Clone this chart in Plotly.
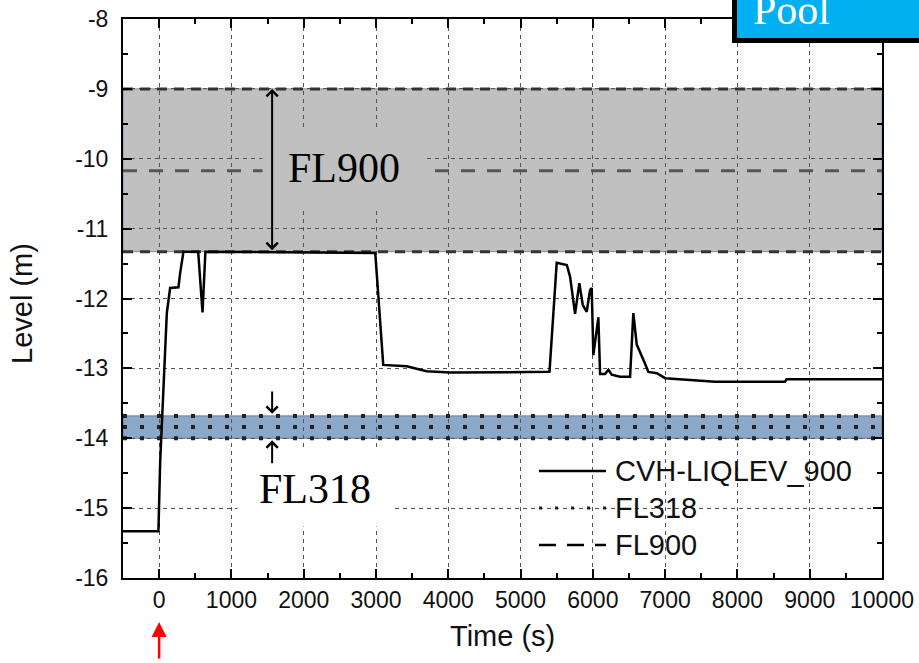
import plotly.graph_objects as go

# ---------------- data ----------------
time_s = [-500, -10, 14, 60, 106, 152, 267, 290, 336, 540, 600, 640, 2990, 3100,
          3425, 3700, 4025, 5400, 5500, 5640, 5685, 5754, 5813, 5860, 5915, 5961,
          5984, 6007, 6076, 6100, 6169, 6215, 6261, 6376, 6515, 6560, 6607, 6700,
          6769, 6885, 7000, 7690, 8658, 8680, 10000]
level_m = [-15.33, -15.33, -14.35, -13.16, -12.21, -11.85, -11.84, -11.64, -11.33,
           -11.33, -12.2, -11.33, -11.35, -12.95, -12.97, -13.04, -13.06, -13.05,
           -11.49, -11.52, -11.69, -12.22, -11.78, -12.09, -12.19, -11.88, -11.85,
           -12.81, -12.27, -13.08, -13.08, -13.02, -13.09, -13.12, -13.12, -12.21,
           -12.66, -12.88, -13.05, -13.07, -13.14, -13.19, -13.19, -13.155, -13.155]

fl318_levels = [-13.68, -13.84, -14.0]   # top, middle, bottom
fl900_levels = [-9.0, -10.17, -11.33]    # top, middle, bottom
x_span = [-500, 10000]

x_tickvals = [0, 1000, 2000, 3000, 4000, 5000, 6000, 7000, 8000, 9000, 10000]
x_ticktext = ["0", "1000", "2000", "3000", "4000", "5000", "6000", "7000", "8000", "9000", "10000"]
y_tickvals = [-16, -15, -14, -13, -12, -11, -10, -9, -8]
y_ticktext = ["-16", "-15", "-14", "-13", "-12", "-11", "-10", "-9", "-8"]

series_names = ["CVH-LIQLEV_900", "FL318", "FL900"]

ARIAL = "Arial, Liberation Sans, sans-serif"
SERIF = "Times New Roman, Liberation Serif, serif"

fig = go.Figure()

# FL900 dashed lines
for i, lv in enumerate(fl900_levels):
    mid = (i == 1)
    fig.add_trace(go.Scatter(
        x=x_span, y=[lv, lv], mode="lines", showlegend=False, hoverinfo="skip",
        line=dict(color="#555555" if mid else "#333333", width=3,
                  dash="14px,12px" if mid else "10px,7px")))

# FL318 dotted lines
for lv in fl318_levels:
    fig.add_trace(go.Scatter(
        x=x_span, y=[lv, lv], mode="lines", showlegend=False, hoverinfo="skip",
        line=dict(color="#222222", width=4, dash="4px,13px")))

# main curve
fig.add_trace(go.Scatter(x=time_s, y=level_m, mode="lines", showlegend=False,
                         line=dict(color="black", width=2.5)))

shapes = []
# bands (below gridlines)
shapes.append(dict(type="rect", xref="x", yref="y", layer="below",
                   x0=x_span[0], x1=x_span[1], y0=fl900_levels[0], y1=fl900_levels[2],
                   fillcolor="#C0C0C0", line=dict(color="#6F8FB5", width=1)))
shapes.append(dict(type="rect", xref="x", yref="y", layer="below",
                   x0=x_span[0], x1=x_span[1], y0=fl318_levels[0], y1=fl318_levels[2],
                   fillcolor="#8CA8C8", line=dict(color="#5A7FAA", width=1)))

# Pool box (top right, partially outside)
shapes.append(dict(type="rect", xref="paper", yref="paper", layer="above",
                   x0=0.8057, x1=1.1, y0=0.9615, y1=1.2,
                   fillcolor="#00B0F0", line=dict(color="black", width=5)))


def px2x(px):
    return (px - 123) / 759.0


def py2y(py):
    return (578 - py) / 559.0


# manual legend samples
leg_rows = [471, 508, 545]
leg_styles = [dict(color="black", width=2.5),
              dict(color="#222222", width=3, dash="3px,13px"),
              dict(color="black", width=2.5, dash="17px,11px")]
for row, st in zip(leg_rows, leg_styles):
    shapes.append(dict(type="line", xref="paper", yref="paper",
                       x0=px2x(539), x1=px2x(606), y0=py2y(row), y1=py2y(row),
                       line=st))

annotations = []
for row, name in zip(leg_rows, series_names):
    annotations.append(dict(xref="paper", yref="paper", x=px2x(613), y=py2y(row),
                            text=name, showarrow=False, xanchor="left", yanchor="middle",
                            font=dict(family=ARIAL, size=29, color="#111")))

# FL900 label (with gray box hiding grid)
annotations.append(dict(xref="x", yref="y", x=2560, y=-10.13, text="FL900",
                        showarrow=False, width=160, height=77, bgcolor="#C0C0C0",
                        xanchor="center", yanchor="middle",
                        font=dict(family=SERIF, size=42, color="black")))
# FL318 label (white box)
annotations.append(dict(xref="x", yref="y", x=2158, y=-14.72, text="FL318",
                        showarrow=False, width=152, height=73, bgcolor="white",
                        xanchor="center", yanchor="middle",
                        font=dict(family=SERIF, size=42, color="black")))

# FL900 double arrow
annotations.append(dict(xref="x", yref="y", axref="x", ayref="y",
                        x=1563, y=fl900_levels[0], ax=1563, ay=fl900_levels[2],
                        text="", showarrow=True, arrowside="end+start",
                        arrowhead=4, startarrowhead=4, arrowsize=1.1, startarrowsize=1.1,
                        arrowwidth=2, arrowcolor="black", standoff=0, startstandoff=0))
# FL318 arrows
annotations.append(dict(xref="x", yref="y", axref="x", ayref="y",
                        x=1563, y=-13.65, ax=1563, ay=-13.31, text="", showarrow=True,
                        arrowhead=4, arrowsize=1.1, arrowwidth=2, arrowcolor="black"))
annotations.append(dict(xref="x", yref="y", axref="x", ayref="y",
                        x=1563, y=-14.03, ax=1563, ay=-14.38, text="", showarrow=True,
                        arrowhead=4, arrowsize=1.1, arrowwidth=2, arrowcolor="black"))

# red arrow under the 0 tick
annotations.append(dict(xref="x", yref="paper", x=0, y=py2y(622), ax=0, ay=38,
                        text="", showarrow=True, arrowhead=2, arrowsize=1.2,
                        arrowwidth=2.5, arrowcolor="red"))

# Pool text
annotations.append(dict(xref="paper", yref="paper", x=px2x(791), y=py2y(10),
                        text="Pool", showarrow=False, xanchor="center", yanchor="middle",
                        font=dict(family=SERIF, size=42, color="white")))

# axis titles
annotations.append(dict(xref="paper", yref="paper", x=0.5, y=py2y(636),
                        text="Time (s)", showarrow=False, xanchor="center", yanchor="middle",
                        font=dict(family=ARIAL, size=29, color="#111")))
annotations.append(dict(xref="paper", yref="paper", x=px2x(22), y=py2y(304),
                        text="Level (m)", showarrow=False, textangle=-90,
                        xanchor="center", yanchor="middle",
                        font=dict(family=ARIAL, size=29, color="#111")))

grid = dict(showgrid=True, gridcolor="#555555", gridwidth=1, griddash="4px,4px")

fig.update_layout(
    width=919, height=663,
    margin=dict(l=123, r=37, t=19, b=85, autoexpand=False),
    paper_bgcolor="white", plot_bgcolor="white",
    showlegend=False,
    shapes=shapes, annotations=annotations,
    xaxis=dict(range=[-500, 10000], tickmode="array", tickvals=x_tickvals,
               ticktext=x_ticktext, automargin=False,
               ticks="inside", ticklen=9, tickwidth=1.5, tickcolor="black",
               showline=True, linecolor="black", linewidth=2, mirror="ticks",
               zeroline=False, ticklabelstandoff=0,
               tickfont=dict(family=ARIAL, size=23, color="#111"),
               minor=dict(tickmode="linear", ticks="inside", ticklen=5, dtick=500, tick0=0,
                          tickcolor="black", showgrid=False),
               **grid),
    yaxis=dict(range=[-16, -8], tickmode="array", tickvals=y_tickvals,
               ticktext=y_ticktext, automargin=False,
               ticks="inside", ticklen=9, tickwidth=1.5, tickcolor="black",
               showline=True, linecolor="black", linewidth=2, mirror="ticks",
               zeroline=False, ticklabelstandoff=8,
               tickfont=dict(family=ARIAL, size=23, color="#111"),
               minor=dict(tickmode="linear", ticks="inside", ticklen=5, dtick=0.5, tick0=-16,
                          tickcolor="black", showgrid=False),
               **grid),
)

fig.write_html("out.html", config={"displayModeBar": False},
               post_script="document.body.style.margin='0';")
